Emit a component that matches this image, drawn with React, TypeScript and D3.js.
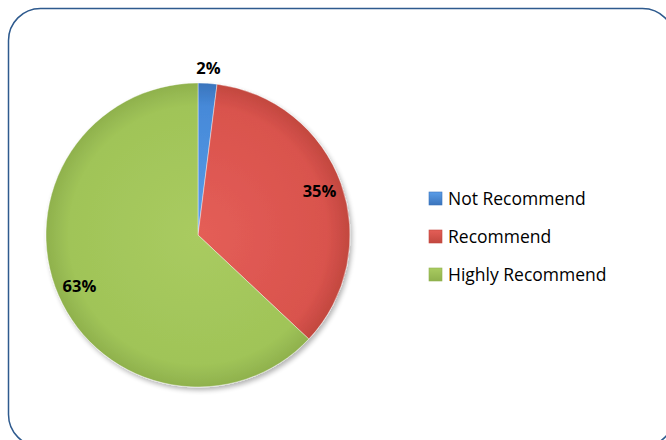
import React from "react";
import * as d3 from "d3";

const categories = ["Not Recommend", "Recommend", "Highly Recommend"];
const values = [2, 35, 63];
const colors = ["#4689D8", "#D9534D", "#A0C458"];
const lightColors = ["#5A9DE8", "#E45E57", "#A9CB60"];
const edgeColors = ["#3A74BC", "#C2483F", "#8FB14D"];

const width = 666;
const height = 440;

const App: React.FC = () => {
  const cx = 198;
  const cy = 235;
  const radius = 152;

  const pie = d3
    .pie<number>()
    .sort(null)
    .value((d) => d);
  const arcs = pie(values);

  const arc = d3.arc<d3.PieArcDatum<number>>().innerRadius(0).outerRadius(radius);
  const labelArc = (d: d3.PieArcDatum<number>) => {
    const share = (d.endAngle - d.startAngle) / (2 * Math.PI);
    // tiny slices get their label outside the pie
    const r = share < 0.05 ? radius * 1.1 : radius * 0.85;
    return d3.arc<d3.PieArcDatum<number>>().innerRadius(r).outerRadius(r).centroid(d);
  };

  const total = d3.sum(values);
  const legend = d3.scaleBand<string>().domain(categories).range([180, 294]);

  return (
    <div style={{ position: "absolute", left: 0, top: 0, background: "#fff" }}>
      <svg width={width} height={height} style={{ display: "block" }}>
        <defs>
          {colors.map((c, i) => (
            // gradient lives in the translated group, so centre is 0,0
            <radialGradient key={i} id={`g${i}`} gradientUnits="userSpaceOnUse" cx={0} cy={0} r={radius}>
              <stop offset="0%" stopColor={lightColors[i]} />
              <stop offset="85%" stopColor={c} />
              <stop offset="100%" stopColor={edgeColors[i]} />
            </radialGradient>
          ))}
          {colors.map((c, i) => (
            <linearGradient key={i} id={`l${i}`} x1="0" y1="0" x2="0" y2="1">
              <stop offset="0%" stopColor={lightColors[i]} />
              <stop offset="100%" stopColor={edgeColors[i]} />
            </linearGradient>
          ))}
          <filter id="shadow" x="-20%" y="-20%" width="140%" height="140%">
            <feGaussianBlur in="SourceAlpha" stdDeviation="2.5" />
            <feOffset dx="2" dy="3" result="b" />
            <feComponentTransfer>
              <feFuncA type="linear" slope="0.3" />
            </feComponentTransfer>
            <feMerge>
              <feMergeNode />
              <feMergeNode in="SourceGraphic" />
            </feMerge>
          </filter>
        </defs>

        <rect
          x={8.5}
          y={8.5}
          width={666}
          height={438}
          rx={32}
          ry={32}
          fill="#fff"
          stroke="#2E5A8E"
          strokeWidth={1.5}
        />

        <g transform={`translate(${cx},${cy})`} filter="url(#shadow)">
          {arcs.map((d, i) => (
            <path
              key={i}
              d={arc(d) || ""}
              fill={`url(#g${i})`}
              stroke="#fff"
              strokeWidth={0.8}
              strokeOpacity={0.5}
            />
          ))}
        </g>

        <g transform={`translate(${cx},${cy})`}>
          {arcs.map((d, i) => {
            const [x, y] = labelArc(d);
            return (
              <text
                key={i}
                x={x}
                y={y}
                dy="0.35em"
                textAnchor="middle"
                fontFamily="'Open Sans', sans-serif"
                fontWeight="bold"
                fontSize={16.5}
                fill="#000"
              >
                {`${Math.round((values[i] / total) * 100)}%`}
              </text>
            );
          })}
        </g>

        <g fontFamily="'Open Sans', sans-serif" fontSize={17.5} fill="#000">
          {categories.map((c, i) => {
            const y = legend(c)! + legend.bandwidth() / 2;
            return (
              <g key={c}>
                <rect
                  x={429}
                  y={y - 7}
                  width={13}
                  height={13}
                  fill={`url(#l${i})`}
                  stroke={edgeColors[i]}
                  strokeWidth={0.6}
                />
                <text x={448} y={y} dy="0.36em">
                  {c}
                </text>
              </g>
            );
          })}
        </g>
      </svg>
    </div>
  );
};

export default App;
